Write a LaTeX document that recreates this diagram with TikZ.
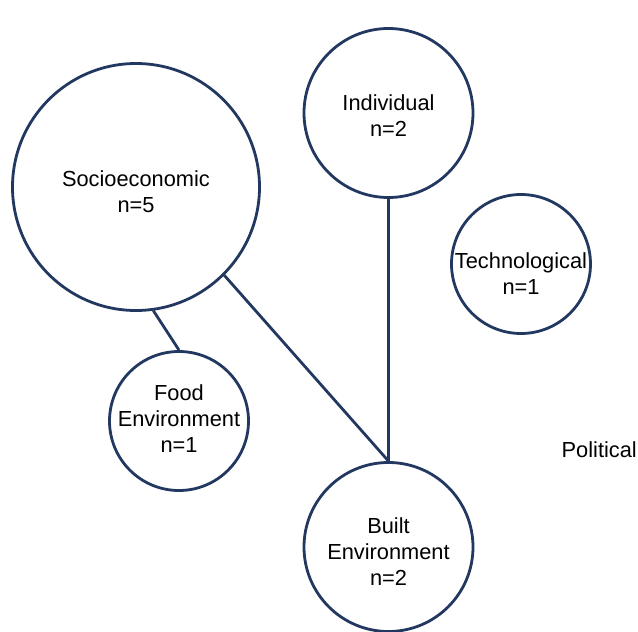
\documentclass[tikz,border=0pt]{standalone}
\usepackage{fontspec}
\setmainfont{Liberation Sans}
\definecolor{navy}{RGB}{35,56,96}
\begin{document}
\begin{tikzpicture}[x=1pt,y=-1pt,
  circ/.style={circle,draw=navy,line width=2.8pt,inner sep=0pt,fill=white},
  txt/.style={align=center,font=\fontsize{21.8}{26}\selectfont,inner sep=0pt},
  link/.style={draw=navy,line width=2.8pt}]
\useasboundingbox (0,0) rectangle (638,632);
\node[circ,minimum size=247pt,label={[txt,yshift=-5pt]center:{Socioeconomic\\n=5}}] (socio) at (136,187) {};
\node[circ,minimum size=169pt,label={[txt,yshift=-2.5pt]center:{Individual\\n=2}}] (indiv) at (388.5,113) {};
\node[circ,minimum size=139pt,label={[txt,yshift=-10pt]center:{Technological\\n=1}}] (tech) at (521,264) {};
\node[circ,minimum size=139pt,label={[txt,yshift=2pt]center:{Food\\Environment\\n=1}}] (food) at (179,421) {};
\node[circ,minimum size=169pt,label={[txt,yshift=-5pt]center:{Built\\Environment\\n=2}}] (built) at (388.5,547) {};
\node[txt,anchor=east] (pol) at (637,450) {Political};
\draw[link] (socio.-82) -- (food.north);
\draw[link] (socio.-45) -- (built.north);
\draw[link] (indiv.south) -- (built.north);
\end{tikzpicture}
\end{document}
